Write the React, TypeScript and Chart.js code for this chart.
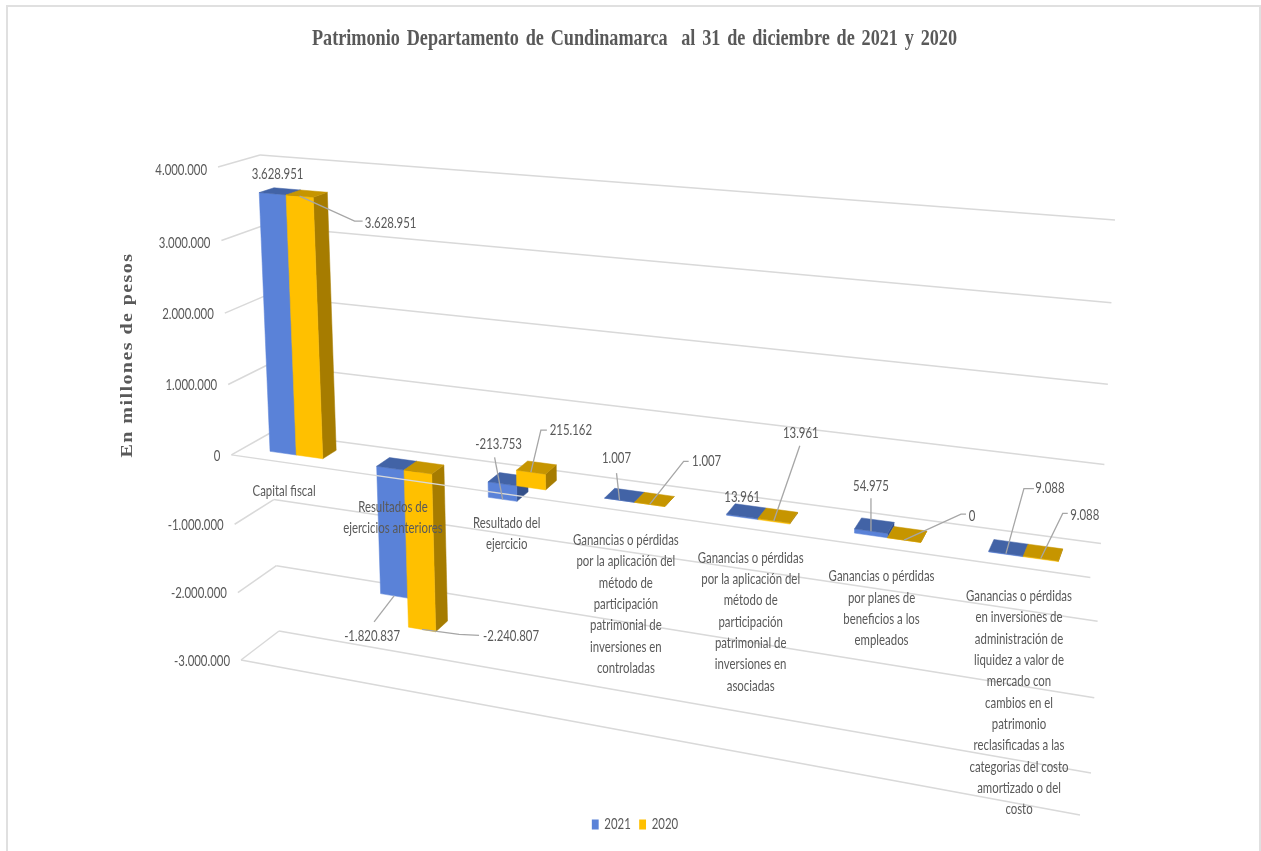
import React, { useEffect, useRef } from "react";
import { Chart, registerables } from "chart.js";

Chart.register(...registerables);

const categories: string[][] = [
  ["Capital fiscal"],
  ["Resultados de", "ejercicios anteriores"],
  ["Resultado del", "ejercicio"],
  ["Ganancias o pérdidas", "por la aplicación del", "método de", "participación", "patrimonial de", "inversiones en", "controladas"],
  ["Ganancias o pérdidas", "por la aplicación del", "método de", "participación", "patrimonial de", "inversiones en", "asociadas"],
  ["Ganancias o pérdidas", "por planes de", "beneficios a los", "empleados"],
  ["Ganancias o pérdidas", "en inversiones de", "administración de", "liquidez a valor de", "mercado con", "cambios en el", "patrimonio", "reclasificadas a las", "categorias del costo", "amortizado o del", "costo"],
];
const values2021 = [3628951, -1820837, -213753, 1007, 13961, 54975, 9088];
const values2020 = [3628951, -2240807, 215162, 1007, 13961, 0, 9088];

const TITLE = "Patrimonio Departamento de Cundinamarca  al 31 de diciembre de 2021 y 2020";
const Y_TITLE = "En millones de pesos";

const SANS = "Lato, 'Open Sans', sans-serif";
const SERIF = "'Liberation Serif', serif";
const TEXT = "#595959";
const GRID = "#d9d9d9";
const SANS_SIZE = 15;
const SANS_SX = 0.76; // the reference's text is horizontally condensed

type Pt = [number, number];
// Perspective frame of the 3D box: [left-top, right-top, right-bottom, left-bottom]
const BACK_QUAD: Pt[] = [[260, 155], [1115, 220], [1091, 773], [279, 631]];
const FRONT_QUAD: Pt[] = [[218, 167], [1105, 241], [1080, 815], [241, 660]];
const Z_FRONT = 0.68;
const Z_BACK = 0.32;

const FACES = [
  { front: "#5a82d8", top: "#4263a6", side: "#34508a" },
  { front: "#ffc000", top: "#c69500", side: "#a67c00" },
];

// Label placement relative to the bar anchor: text offset, then leader bend points
type Lab = { t: Pt; via: Pt[] };
const LABELS: Lab[][] = [
  [
    { t: [5, -20], via: [] },
    { t: [-22, 40], via: [[-20, 26]] },
    { t: [-4, -55], via: [[-8, -42]] },
    { t: [-3, -42], via: [[-3, -27]] },
    { t: [0, -19], via: [] },
    { t: [0, -45], via: [[0, -33]] },
    { t: [44, -65], via: [[18, -65], [28, -65]] },
  ],
  [
    { t: [91, 27], via: [[55, 25], [63, 25]] },
    { t: [89, 7], via: [[37, 5], [57, 6]] },
    { t: [40, -42], via: [[10, -42], [16, -42]] },
    { t: [57, -43], via: [[34, -43], [39, -43]] },
    { t: [27, -88], via: [[26, -75]] },
    { t: [68, -24], via: [[57, -26], [62, -26]] },
    { t: [44, -43], via: [[22, -45], [27, -45]] },
  ],
];

function homography(q: Pt[]) {
  const [[x0, y0], [x1, y1], [x2, y2], [x3, y3]] = q;
  const dx1 = x1 - x2, dx2 = x3 - x2, sx = x0 - x1 + x2 - x3;
  const dy1 = y1 - y2, dy2 = y3 - y2, sy = y0 - y1 + y2 - y3;
  const den = dx1 * dy2 - dx2 * dy1;
  const g = (sx * dy2 - dx2 * sy) / den;
  const h = (dx1 * sy - sx * dy1) / den;
  const a = x1 - x0 + g * x1, b = x3 - x0 + h * x3;
  const d = y1 - y0 + g * y1, e = y3 - y0 + h * y3;
  return (u: number, v: number): Pt => {
    const w = g * u + h * v + 1;
    return [(a * u + b * v + x0) / w, (d * u + e * v + y0) / w];
  };
}
const backH = homography(BACK_QUAD);
const frontH = homography(FRONT_QUAD);

function project(u: number, v: number, z: number): Pt {
  const b = backH(u, v), f = frontH(u, v);
  return [b[0] + (f[0] - b[0]) * z, b[1] + (f[1] - b[1]) * z];
}

function fmt(n: number): string {
  const s = String(Math.abs(n)).replace(/\B(?=(\d{3})+$)/g, ".");
  return n < 0 ? "-" + s : s;
}

// Draw a Chart.js layout box squeezed horizontally, centred on a chosen x
function squeeze(chart: any, box: any, sx: number, cx: number, spacing: string) {
  const orig = box.draw;
  box.draw = function (...args: any[]) {
    const ctx = chart.ctx;
    ctx.save();
    ctx.wordSpacing = spacing;
    ctx.translate(cx, 0);
    ctx.scale(sx, 1);
    ctx.translate(-chart.width / 2, 0);
    orig.apply(this, args);
    ctx.restore();
  };
}

const perspective = {
  id: "perspective",
  beforeDraw(chart: any) {
    if (!chart.$squeezed) {
      chart.$squeezed = true;
      squeeze(chart, chart.titleBlock, 0.758, 634.5, "3px");
      squeeze(chart, chart.legend, SANS_SX, 635, "0px");
    }
  },
  beforeDatasetsDraw(chart: any) {
    const ctx: CanvasRenderingContext2D = chart.ctx;
    const area = chart.chartArea;
    const U = (px: number) => (px - area.left) / area.width;
    const V = (py: number) => (py - area.top) / area.height;
    const yS = chart.scales.y;
    const line = (a: Pt, b: Pt) => {
      ctx.beginPath();
      ctx.moveTo(a[0], a[1]);
      ctx.lineTo(b[0], b[1]);
      ctx.stroke();
    };
    const poly = (pts: Pt[], color: string) => {
      ctx.fillStyle = color;
      ctx.strokeStyle = color;
      ctx.lineWidth = 0.5;
      ctx.beginPath();
      pts.forEach((p, i) => (i ? ctx.lineTo(p[0], p[1]) : ctx.moveTo(p[0], p[1])));
      ctx.closePath();
      ctx.fill();
      ctx.stroke();
    };
    const txt = (s: string, x: number, y: number) => {
      ctx.save();
      ctx.translate(x, y);
      ctx.scale(SANS_SX, 1);
      ctx.fillText(s, 0, 0);
      ctx.restore();
    };

    ctx.save();
    // walls: back gridlines, left side gridlines, tick labels
    ctx.font = `${SANS_SIZE}px ${SANS}`;
    ctx.textAlign = "right";
    ctx.textBaseline = "middle";
    for (const tick of yS.ticks) {
      const v = V(yS.getPixelForValue(tick.value));
      ctx.strokeStyle = GRID;
      ctx.lineWidth = 1.5;
      line(project(0, v, 1), project(0, v, 0));
      line(project(0, v, 0), project(1, v, 0));
      const a = project(0, v, 1);
      ctx.fillStyle = TEXT;
      txt(tick.label, a[0] - 11, a[1] + 1 + Math.max(0, 0.3 - v) * 8);
    }
    // floor at the axis minimum
    const vMin = V(yS.getPixelForValue(yS.min));
    line(project(0, vMin, 1), project(1, vMin, 1));

    // bars
    const metas = [chart.getDatasetMeta(0), chart.getDatasetMeta(1)];
    const anchors: Pt[][] = [[], []];
    for (let i = 0; i < categories.length; i++) {
      metas.forEach((meta: any, s: number) => {
        const el = meta.data[i];
        const u0 = U(el.x - el.width / 2), u1 = U(el.x + el.width / 2);
        const vt = V(Math.min(el.y, el.base)), vb = V(Math.max(el.y, el.base));
        const c = FACES[s];
        poly([project(u1, vt, Z_FRONT), project(u1, vt, Z_BACK), project(u1, vb, Z_BACK), project(u1, vb, Z_FRONT)], c.side);
        poly([project(u0, vb, Z_FRONT), project(u1, vb, Z_FRONT), project(u1, vt, Z_FRONT), project(u0, vt, Z_FRONT)], c.front);
        poly([project(u0, vt, Z_FRONT), project(u1, vt, Z_FRONT), project(u1, vt, Z_BACK), project(u0, vt, Z_BACK)], c.top);
        anchors[s][i] = project(U(el.x), V(el.y), Z_FRONT);
      });
    }

    // front edge of the zero plane, over the bars
    const v0 = V(yS.getPixelForValue(0));
    ctx.strokeStyle = GRID;
    ctx.lineWidth = 1.5;
    line(project(0, v0, 1), project(1, v0, 1));

    // category labels
    const xS = chart.scales.x;
    ctx.fillStyle = TEXT;
    ctx.textAlign = "center";
    ctx.textBaseline = "middle";
    categories.forEach((lines, i) => {
      const p = project(U(xS.getPixelForValue(i)), v0, 1);
      lines.forEach((l, k) => txt(l, p[0], p[1] + 29 + k * 21.3));
    });

    // data labels with leader lines
    chart.data.datasets.forEach((ds: any, s: number) => {
      ds.data.forEach((val: number, i: number) => {
        const a = anchors[s][i];
        const lab = LABELS[s][i];
        if (lab.via.length) {
          ctx.strokeStyle = "#a6a6a6";
          ctx.lineWidth = 1.3;
          ctx.beginPath();
          ctx.moveTo(a[0], a[1]);
          lab.via.forEach((o) => ctx.lineTo(a[0] + o[0], a[1] + o[1]));
          ctx.stroke();
        }
        ctx.fillStyle = TEXT;
        txt(fmt(val), a[0] + lab.t[0], a[1] + lab.t[1]);
      });
    });

    // value axis title
    ctx.save();
    ctx.translate(128, 355);
    ctx.rotate(-Math.PI / 2);
    ctx.scale(1.25, 1);
    ctx.font = `bold 16px ${SERIF}`;
    (ctx as any).letterSpacing = "1.15px";
    ctx.fillText(Y_TITLE, 0, 0);
    ctx.restore();
    ctx.restore();
    return false;
  },
};

export default function App() {
  const ref = useRef<HTMLCanvasElement | null>(null);
  useEffect(() => {
    const chart = new Chart(ref.current as HTMLCanvasElement, {
      type: "bar",
      data: {
        labels: categories,
        datasets: [
          { label: "2021", data: values2021, backgroundColor: FACES[0].front },
          { label: "2020", data: values2020, backgroundColor: FACES[1].front },
        ],
      },
      options: {
        responsive: false,
        animation: false,
        layout: { padding: { top: 0, bottom: 9, left: 0, right: 0 } },
        datasets: { bar: { barPercentage: 1, categoryPercentage: 0.5 } },
        scales: {
          x: { display: false },
          y: {
            display: false,
            min: -3000000,
            max: 4000000,
            ticks: { stepSize: 1000000, callback: (v: any) => fmt(Number(v)) },
          },
        },
        plugins: {
          tooltip: { enabled: false },
          title: {
            display: true,
            text: TITLE,
            color: TEXT,
            font: { family: SERIF, size: 24, weight: "bold" },
            padding: { top: 24, bottom: 10 },
          },
          legend: {
            display: true,
            position: "bottom",
            labels: {
              boxWidth: 9,
              boxHeight: 10,
              padding: 11,
              color: TEXT,
              font: { family: SANS, size: SANS_SIZE },
            },
          },
        },
      },
      plugins: [perspective],
    } as any);
    return () => chart.destroy();
  }, []);
  return (
    <div style={{ position: "absolute", left: 0, top: 0, width: 1261, height: 851, background: "#fff", overflow: "hidden" }}>
      <div style={{ position: "absolute", left: 6, top: 5, right: 0, bottom: -4, border: "2px solid #e0e0e0", boxSizing: "border-box" }} />
      <canvas ref={ref} width={1261} height={851} style={{ position: "absolute", left: 0, top: 0 }} />
    </div>
  );
}
